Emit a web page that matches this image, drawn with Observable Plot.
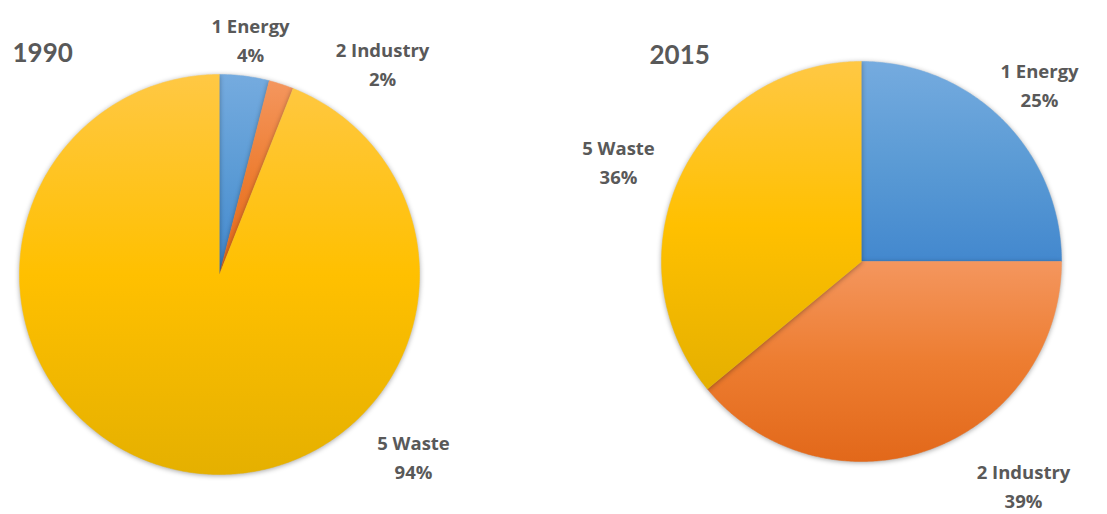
<!DOCTYPE html>
<html>
<head>
<meta charset="utf-8">
<script src="https://cdn.jsdelivr.net/npm/d3@7"></script>
<script src="https://cdn.jsdelivr.net/npm/@observablehq/plot@0.6"></script>
<style>
  html, body { margin: 0; padding: 0; background: #fff; }
  #chart { width: 1107px; height: 514px; }
</style>
</head>
<body>
<div id="chart"></div>
<script>
// ---- data ----
const categories = ["1 Energy", "2 Industry", "5 Waste"];
const years = ["1990", "2015"];
const values1990 = [4, 2, 94];
const values2015 = [25, 39, 36];

// ---- layout (not data) ----
const W = 1107, H = 514, R = 200;
const centers = { "1990": [219, 274], "2015": [861, 261] };
const titlePos = { "1990": [12, 53.5], "2015": [649, 55] };
const labelPos = {
  "1990": [[250, 38], [382, 61.5], [413, 455]],
  "2015": [[1039, 83], [1023, 484], [618, 159.5]]
};
const gradStops = [
  ["#75abdf", "#5b9bd5", "#4388ce"],
  ["#f4965e", "#ed7d31", "#e2681a"],
  ["#ffc844", "#ffc000", "#e5b000"]
];

const valuesByYear = { "1990": values1990, "2015": values2015 };

// build slice polygons from values
const slicePts = [];
const labels = [];
for (const yr of years) {
  const vals = valuesByYear[yr];
  const total = d3.sum(vals);
  const [cx, cy] = centers[yr];
  let acc = 0;
  vals.forEach((v, i) => {
    const a0 = acc / total * 2 * Math.PI;
    acc += v;
    const a1 = acc / total * 2 * Math.PI;
    const key = yr + "-" + i;
    slicePts.push({ key, cat: i, x: cx, y: cy });
    const n = Math.max(2, Math.ceil((a1 - a0) / 0.01));
    for (let k = 0; k <= n; k++) {
      const a = a0 + (a1 - a0) * k / n;
      slicePts.push({ key, cat: i, x: cx + R * Math.sin(a), y: cy - R * Math.cos(a) });
    }
    const pct = Math.round(v / total * 100);
    labels.push({ x: labelPos[yr][i][0], y: labelPos[yr][i][1], text: categories[i] + "\n" + pct + "%" });
  });
}
const titles = years.map(yr => ({ x: titlePos[yr][0], y: titlePos[yr][1], text: yr }));

const sliceMarks = categories.map((c, i) =>
  Plot.line(slicePts.filter(p => p.cat === i), {
    x: "x", y: "y", z: "key", fill: `url(#grad${i})`, stroke: `url(#grad${i})`, strokeWidth: 0.5, curve: "linear"
  })
);

const svg = Plot.plot({
  width: W,
  height: H,
  margin: 0,
  style: { fontFamily: "'Open Sans', Lato, sans-serif", background: "#fff" },
  x: { domain: [0, W], range: [0, W], axis: null },
  y: { domain: [0, H], range: [0, H], axis: null },
  marks: [
    ...sliceMarks,
    Plot.text(labels, {
      x: "x", y: "y", text: "text", fontSize: 18.5, fontWeight: "bold", fill: "#595959",
      lineAnchor: "middle", lineHeight: 1.55, textAnchor: "middle"
    }),
    Plot.text(titles, {
      x: "x", y: "y", text: "text", fontSize: 26, fontWeight: "bold", fill: "#595959",
      lineAnchor: "middle", textAnchor: "start", fontFamily: "Lato, sans-serif"
    })
  ]
});

// gradients + soft shadow
const ns = "http://www.w3.org/2000/svg";
const defs = document.createElementNS(ns, "defs");
gradStops.forEach((stops, i) => {
  const g = document.createElementNS(ns, "linearGradient");
  g.setAttribute("id", "grad" + i);
  g.setAttribute("x1", "0"); g.setAttribute("y1", "0");
  g.setAttribute("x2", "0"); g.setAttribute("y2", "1");
  stops.forEach((c, k) => {
    const s = document.createElementNS(ns, "stop");
    s.setAttribute("offset", (k / (stops.length - 1) * 100) + "%");
    s.setAttribute("stop-color", c);
    g.appendChild(s);
  });
  defs.appendChild(g);
});
svg.insertBefore(defs, svg.firstChild);
svg.querySelectorAll("g[aria-label='line']").forEach(g => {
  g.style.filter = "drop-shadow(0px 1px 2.5px rgba(0,0,0,0.35))";
});
document.getElementById("chart").appendChild(svg);
</script>
</body>
</html>
